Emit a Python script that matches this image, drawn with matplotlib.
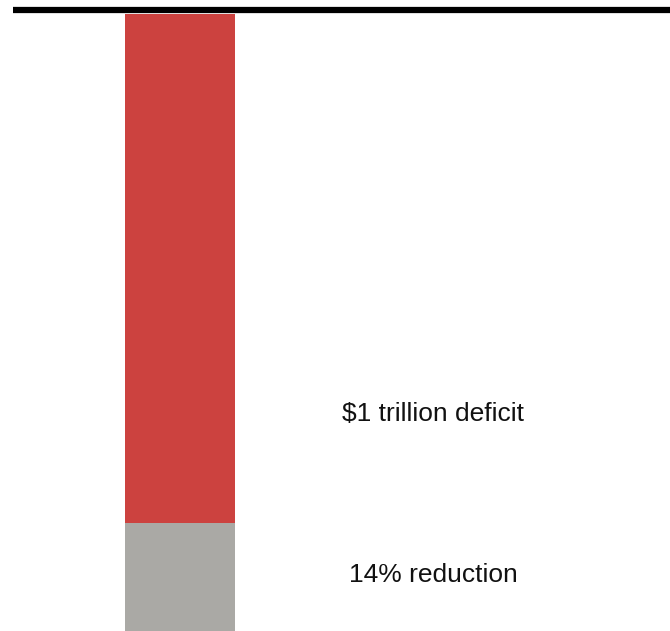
import matplotlib.pyplot as plt
from matplotlib.lines import Line2D

# Stacked single bar: share of the deficit
segments = ['14% reduction', '$1 trillion deficit']
values = [0.175, 0.825]
colors = ['#aaa9a5', '#cc423f']
label_y = [0.091, 0.352]

W, H = 670, 631
fig = plt.figure(figsize=(W / 100, H / 100), dpi=100)
plt.rcParams['font.family'] = ['Liberation Sans', 'DejaVu Sans']

top = 14
ax = fig.add_axes([0, 0, 1, (H - top) / H])
ax.set_xlim(0, W)
ax.set_ylim(0, sum(values))

bottom = 0
for v, c in zip(values, colors):
    ax.bar(180, v, width=110, bottom=bottom, color=c, linewidth=0)
    bottom += v

for lab, y in zip(segments, label_y):
    ax.text(0.647, y / sum(values), lab, transform=ax.transAxes,
            ha='center', va='center', fontsize=19, color='#111111')

ax.axis('off')

# thick rule at the top
fig.add_artist(Line2D([13 / W, 1], [1 - 10 / H, 1 - 10 / H],
                      transform=fig.transFigure, color='black',
                      linewidth=4.5, solid_capstyle='butt'))

fig.savefig('out.png', dpi=100)
